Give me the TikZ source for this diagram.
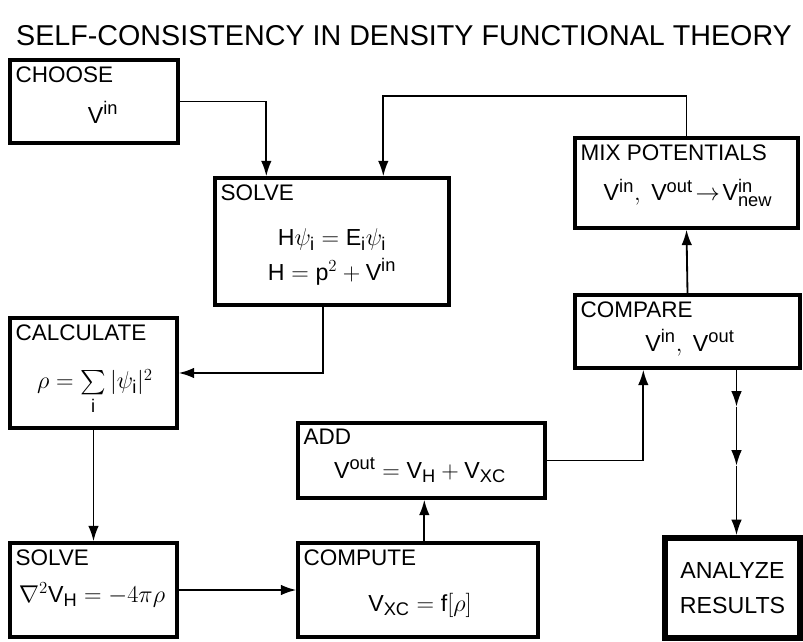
\documentclass[tikz,border=0pt]{standalone}
\usepackage{amsmath}
\usepackage{fontspec}
\setmainfont{Liberation Sans}
\usepackage{tikz}
\usetikzlibrary{arrows.meta, positioning, fit, calc}

\DeclareMathSizes{16.5}{16.5}{13}{10}
\newcommand{\rmf}[1]{\mathrm{#1}}

\begin{document}
\begin{tikzpicture}[x=0.025cm, y=-0.025cm,
	box/.style={draw=black, line width=2.4pt, inner sep=0pt},
	head/.style={anchor=north west, inner sep=0pt, xshift=5pt, yshift=-5.5pt,
	             font=\fontsize{16}{18}\selectfont},
	eq/.style={align=center, inner sep=1pt, font=\fontsize{16.5}{25}\selectfont},
	arr/.style={-{Latex[length=11pt, width=7.5pt]}, draw=black, line width=1.3pt}
	]
\useasboundingbox (0,0) rectangle (803,642);

% Titel
\node[font=\fontsize{20.4}{22}\selectfont, inner sep=0pt] (title) at (404,36)
	{SELF-CONSISTENCY IN DENSITY FUNCTIONAL THEORY};

% Kästen
\node[box, fit={(10,60) (178,143)}] (choose) {};
\node[box, fit={(215,178) (449,305)}] (solveA) {};
\node[box, fit={(575,138) (798,228)}] (mix) {};
\node[box, fit={(575,295) (800,368)}] (compare) {};
\node[box, fit={(10,318) (177,428)}] (calc) {};
\node[box, fit={(298,423) (545,498)}] (add) {};
\node[box, fit={(10,543) (177,637)}] (solveB) {};
\node[box, fit={(298,543) (538,637)}] (compute) {};
\node[box, line width=4pt, fit={(665,538) (800,638)}] (analyze) {};

% Überschriften
\node[head] (chooseT) at (choose.north west) {CHOOSE};
\node[head] (solveAT) at (solveA.north west) {SOLVE};
\node[head] (mixT) at (mix.north west) {MIX POTENTIALS};
\node[head] (compareT) at (compare.north west) {COMPARE};
\node[head] (calcT) at (calc.north west) {CALCULATE};
\node[head] (addT) at (add.north west) {ADD};
\node[head] (solveBT) at (solveB.north west) {SOLVE};
\node[head] (computeT) at (compute.north west) {COMPUTE};

% Formeln
\node[eq] (chooseF) at (103,112) {$\rmf{V}^{\rmf{in}}$};
\node[eq] (solveAF) at (332,257)
	{$\rmf{H}\psi_{\rmf{i}}=\rmf{E}_{\rmf{i}}\psi_{\rmf{i}}$\\
	 $\rmf{H}=\rmf{p}^2+\rmf{V}^{\rmf{in}}$};
\node[eq] (mixF) at (688,193)
	{$\rmf{V}^{\rmf{in}},\ \rmf{V}^{\rmf{out}}\!\rightarrow\!\rmf{V}^{\rmf{in}}_{\rmf{new}}$};
\node[eq] (compareF) at (690,343) {$\rmf{V}^{\rmf{in}},\ \rmf{V}^{\rmf{out}}$};
\node[eq] (calcF) at (95,392)
	{$\rho=\sum\limits_{\rmf{i}}|\psi_{\rmf{i}}|^2$};
\node[eq] (addF) at (420,470)
	{$\rmf{V}^{\rmf{out}}=\rmf{V}_{\rmf{H}}+\rmf{V}_{\rmf{XC}}$};
\node[eq] (solveBF) at (92,595) {$\nabla^2\rmf{V}_{\rmf{H}}=-4\pi\rho$};
\node[eq] (computeF) at (420,605) {$\rmf{V}_{\rmf{XC}}=\rmf{f}[\rho]$};
\node[eq] (analyzeF) at (analyze.center) {ANALYZE\\RESULTS};

% Pfeile
\draw[arr] (choose.east) -| ($(solveA.north west)+(53,0)$);
\draw[arr] (mix.north) |- ++(0,-40) -| ($(solveA.north west)+(170,0)$);
\draw[arr] ($(solveA.south west)+(110,0)$) |- (calc.east);
\draw[arr] (calc.south) -- (solveB.north);
\draw[arr] (solveB.east) -- (compute.west);
\draw[arr] ($(compute.north west)+(128,0)$) -- ($(add.south west)+(128,0)$);
\draw[arr] (add.east) -| ($(compare.south west)+(70,0)$);
\draw[arr] (compare.north) -- (mix.south);

% zum Ergebnis
\coordinate (an) at ($(analyze.north)+(4,0)$);
\coordinate (cs) at (an |- compare.south);
\draw[arr] (cs) -- ($(cs)+(0,37)$) coordinate (k1);
\draw[arr] (k1) -- ($(k1)+(0,59)$) coordinate (k2);
\draw[arr] (k2) -- (an);

\end{tikzpicture}
\end{document}
